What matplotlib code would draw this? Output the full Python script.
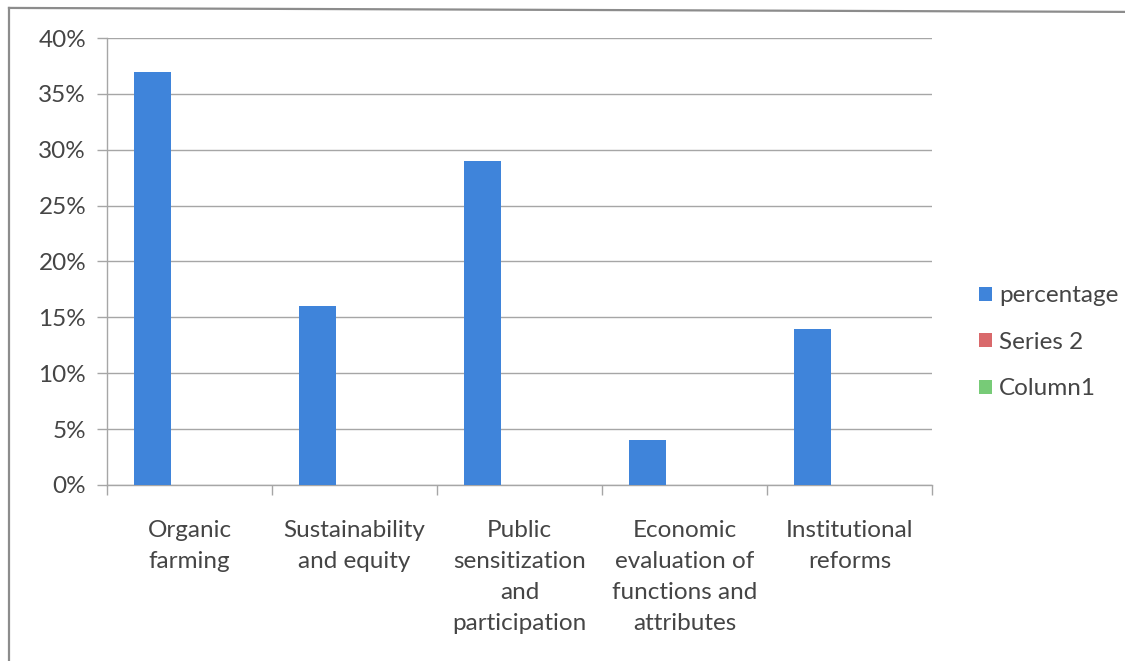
import matplotlib
matplotlib.use("Agg")
from matplotlib import pyplot as plt
from matplotlib.ticker import PercentFormatter, FixedLocator
from matplotlib.lines import Line2D
import numpy as np

plt.rcParams['font.family'] = ['Lato', 'DejaVu Sans']

categories = [
    'Organic\nfarming',
    'Sustainability\nand equity',
    'Public\nsensitization\nand\nparticipation',
    'Economic\nevaluation of\nfunctions and\nattributes',
    'Institutional\nreforms',
]
percentage = [0.37, 0.16, 0.29, 0.04, 0.14]
series2 = [0, 0, 0, 0, 0]
column1 = [0, 0, 0, 0, 0]

series = [
    ('percentage', percentage, '#3f84da'),
    ('Series 2', series2, '#d9696b'),
    ('Column1', column1, '#77cb77'),
]

TEXT = '#454545'
GRID = '#a6a6a6'
FS = 17.5


def main():
    fig = plt.figure(figsize=(11.25, 6.61), dpi=100)
    ax = fig.add_axes([0.0951, 0.2663, 0.7333, 0.6762])

    # clustered columns, gap width 150% like a spreadsheet chart
    n = len(series)
    width = 1 / (n + 1.5)
    x = np.arange(len(categories))
    for k, (name, vals, color) in enumerate(series):
        offset = -0.5 + 0.75 * width + (k + 0.5) * width
        ax.bar(x + offset, vals, width, color=color, label=name,
               linewidth=0, zorder=3)

    ax.set_xlim(-0.5, len(categories) - 0.5)
    ax.set_ylim(0, 0.40)
    ax.set_yticks(np.arange(0, 0.401, 0.05))
    ax.yaxis.set_major_formatter(PercentFormatter(1.0, decimals=0))
    ax.yaxis.grid(True, color=GRID, linewidth=1.0, zorder=0)

    # category labels between the boundary ticks
    ax.xaxis.set_major_locator(FixedLocator(np.arange(-0.5, len(categories))))
    ax.set_xticklabels([''] * (len(categories) + 1))
    ax.xaxis.set_minor_locator(FixedLocator(x))
    ax.set_xticklabels(categories, minor=True, linespacing=1.6,
                       ha='center', va='top')
    ax.tick_params(axis='x', which='minor', length=0, pad=25,
                   labelsize=FS, labelcolor=TEXT)
    ax.tick_params(axis='x', which='major', length=7, color=GRID, width=1)
    ax.tick_params(axis='y', length=7, color=GRID, width=1, pad=8,
                   labelsize=FS, labelcolor=TEXT)

    for side in ('top', 'right'):
        ax.spines[side].set_visible(False)
    for side in ('left', 'bottom'):
        ax.spines[side].set_color(GRID)
        ax.spines[side].set_linewidth(1.0)

    fig.legend(loc='center left', bbox_to_anchor=(0.862, 0.482),
               frameon=False, fontsize=FS, labelcolor=TEXT,
               handlelength=0.5, handleheight=0.5, handletextpad=0.3,
               labelspacing=1.05, borderaxespad=0)

    # chart area border
    fig.add_artist(Line2D([0.008, 0.008], [0.0, 0.988], color='#8c8c8c',
                          linewidth=1.6, transform=fig.transFigure))
    fig.add_artist(Line2D([0.008, 1.0], [0.988, 0.982], color='#8c8c8c',
                          linewidth=1.6, transform=fig.transFigure))

    fig.savefig('out.png', dpi=100)


if __name__ == "__main__":
    main()
